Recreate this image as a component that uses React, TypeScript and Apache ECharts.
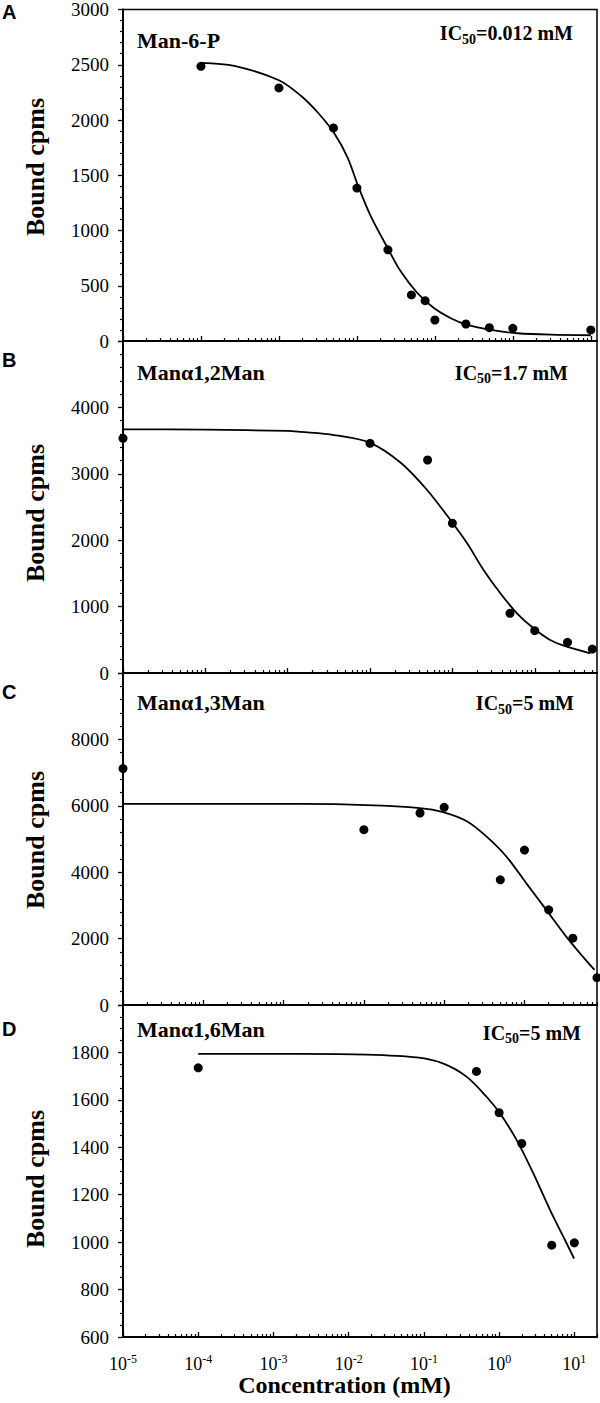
import React, { useEffect, useRef } from 'react';
import * as echarts from 'echarts';

// ---------- Panel A: Man-6-P ----------
const aPointX = [0.0001, 0.001, 0.005, 0.01, 0.025, 0.05, 0.075, 0.1, 0.25, 0.5, 1, 10];
const aPointY = [2486, 2290, 1928, 1384, 825, 417, 365, 190, 154, 121, 115, 100];
const aCurveX = [0.0001, 0.000267, 0.001, 0.00191, 0.00313, 0.00512, 0.0076, 0.0104, 0.0151, 0.0255, 0.0366, 0.06, 0.098, 0.16, 0.262, 0.522, 1.15, 3.07, 10];
const aCurveY = [2517, 2490, 2360, 2220, 2070, 1880, 1660, 1400, 1127, 825, 628, 432, 296, 206, 145, 100, 70, 57, 52];

// ---------- Panel B: Mana1,2Man ----------
const bPointX = [0.00001, 0.01, 0.05, 0.1, 0.5, 1, 2.5, 5];
const bPointY = [3535, 3459, 3208, 2255, 899, 637, 462, 361];
const bCurveX = [0.00001, 0.0001, 0.001, 0.00144, 0.00364, 0.00986, 0.0234, 0.0493, 0.0946, 0.151, 0.239, 0.382, 0.608, 0.966, 1.54, 2.45, 4.71];
const bCurveY = [3670, 3666, 3645, 3630, 3584, 3470, 3170, 2756, 2304, 1953, 1551, 1200, 899, 673, 497, 396, 297];

// ---------- Panel C: Mana1,3Man ----------
const cPointX = [0.00001, 0.01, 0.05, 0.1, 0.5, 1, 2, 4, 8];
const cPointY = [7120, 5280, 5783, 5953, 3771, 4667, 2866, 2012, 824];
const cCurveX = [0.00001, 0.0001, 0.0016, 0.0108, 0.0496, 0.0966, 0.189, 0.335, 0.594, 1.05, 1.87, 3.31, 5.33, 7.45];
const cCurveY = [6060, 6058, 6055, 6020, 5930, 5810, 5540, 5078, 4474, 3672, 2866, 2061, 1457, 1056];

// ---------- Panel D: Mana1,6Man ----------
const dPointX = [0.0001, 0.5, 1, 2, 5, 10];
const dPointY = [1735, 1720, 1546, 1416, 987, 997];
const dCurveX = [0.0001, 0.00226, 0.0174, 0.0805, 0.182, 0.372, 0.685, 1.03, 1.72, 2.86, 4.76, 7.16, 9.93];
const dCurveY = [1794, 1794, 1791, 1779, 1753, 1697, 1612, 1542, 1429, 1289, 1135, 1022, 931];

// ---------- Axes ----------
const panelLetters = ['A', 'B', 'C', 'D'];
const panelTitles = ['Man-6-P', 'Manα1,2Man', 'Manα1,3Man', 'Manα1,6Man'];
const ic50Values = ['=0.012 mM', '=1.7 mM', '=5 mM', '=5 mM'];
const xMaxes = [12, 5.7, 8, 20];
const yMins = [0, 0, 0, 600];
const yMaxes = [3000, 5000, 10000, 2000];
const yIntervals = [500, 1000, 2000, 200];
const yMinorSplits = [5, 5, 5, 4];
const decadeExponents = [-5, -4, -3, -2, -1, 0, 1];
const minorMultipliers = [2, 3, 4, 5, 6, 7, 8, 9];
const yName = 'Bound cpms';
const xName = 'Concentration (mM)';

const SERIF = "'Liberation Serif', 'Times New Roman', serif";
const SANS = "'Liberation Sans', Arial, sans-serif";

const GRID_LEFT = 123;
const GRID_RIGHT_EDGE = 597;
const PANEL_TOPS = [9, 341, 673, 1005];
const PANEL_H = 332;

// layout of texts (positions only)
const titleY = [40.8, 372.5, 702.5, 1029];
const icY = [33.3, 372.5, 703.3, 1032.5];
const icRight = [573, 568, 574, 581];
const letterY = [11.5, 360, 691.5, 1028.5];
const yNameY = [167, 513, 840, 1179];

function majorsUpTo(max: number) {
  return decadeExponents.map((e) => Number('1e' + e)).filter((v) => v <= max * 1.0001);
}
function minorsUpTo(max: number) {
  const out: number[] = [];
  decadeExponents.forEach((e) =>
    minorMultipliers.forEach((m) => {
      const v = Number(m + 'e' + e);
      if (v <= max * 1.0001) out.push(v);
    })
  );
  return out;
}
function zip(xs: number[], ys: number[]) {
  return xs.map((x, i) => [x, ys[i]]);
}

export default function App() {
  const ref = useRef<HTMLDivElement>(null);
  useEffect(() => {
    document.body.style.margin = '0';
    if (!ref.current) return;
    const chart = echarts.init(ref.current, undefined, { renderer: 'svg' });

    const pts = [
      [aPointX, aPointY],
      [bPointX, bPointY],
      [cPointX, cPointY],
      [dPointX, dPointY],
    ];
    const curves = [
      [aCurveX, aCurveY],
      [bCurveX, bCurveY],
      [cCurveX, cCurveY],
      [dCurveX, dCurveY],
    ];

    const grid: any[] = [];
    const xAxis: any[] = [];
    const yAxis: any[] = [];
    const series: any[] = [];

    for (let i = 0; i < 4; i++) {
      grid.push({
        left: GRID_LEFT,
        right: 600 - GRID_RIGHT_EDGE,
        top: PANEL_TOPS[i],
        height: PANEL_H,
        show: true,
        borderColor: '#000',
        borderWidth: 1.5,
        backgroundColor: 'transparent',
      });
      const majors = majorsUpTo(xMaxes[i]);
      const isBottom = i === 3;
      xAxis.push({
        type: 'log',
        logBase: 10,
        gridIndex: i,
        position: 'bottom',
        min: 0.00001,
        max: xMaxes[i],
        axisLine: { show: true, lineStyle: { color: '#000', width: 2 } },
        axisTick: { show: true, inside: true, length: 5, customValues: majors, lineStyle: { color: '#000', width: 1.3 } },
        minorTick: { show: false },
        splitLine: { show: false },
        axisLabel: {
          show: isBottom,
          customValues: majors,
          margin: 16,
          color: '#000',
          formatter: (v: number) => {
            if (!(v > 0)) return '';
            const k = Math.round(Math.log10(v));
            if (Math.abs(Math.pow(10, k) - v) / v > 1e-6) return '';
            return '{b|10}{s|' + k + '}';
          },
          rich: {
            b: { fontFamily: SERIF, fontSize: 18, color: '#000', lineHeight: 22 },
            s: { fontFamily: SERIF, fontSize: 12, color: '#000', lineHeight: 22, padding: [0, 0, 10, 0] },
          },
        },
      });
      xAxis.push({
        type: 'log',
        logBase: 10,
        gridIndex: i,
        position: 'bottom',
        min: 0.00001,
        max: xMaxes[i],
        axisLine: { show: false },
        axisTick: { show: true, inside: true, length: 3, customValues: minorsUpTo(xMaxes[i]), lineStyle: { color: '#000', width: 1.2 } },
        minorTick: { show: false },
        splitLine: { show: false },
        axisLabel: { show: false },
      });
      yAxis.push({
        type: 'value',
        gridIndex: i,
        min: yMins[i],
        max: yMaxes[i],
        interval: yIntervals[i],
        axisLine: { show: true, lineStyle: { color: '#000', width: 2 } },
        axisTick: { show: true, inside: false, length: 5, lineStyle: { color: '#000', width: 1.3 } },
        minorTick: { show: true, splitNumber: yMinorSplits[i], length: 3, lineStyle: { color: '#000', width: 1.2 } },
        splitLine: { show: false },
        axisLabel: {
          color: '#000',
          fontFamily: SERIF,
          fontSize: 19,
          margin: 14,
          showMaxLabel: i === 0,
          formatter: (v: number) => String(v),
        },
      });
      series.push({
        type: 'line',
        xAxisIndex: 2 * i,
        yAxisIndex: i,
        data: zip(curves[i][0], curves[i][1]),
        showSymbol: false,
        symbol: 'none',
        smooth: 0.3,
        lineStyle: { color: '#000', width: 1.8 },
        z: 3,
      });
      series.push({
        type: 'scatter',
        xAxisIndex: 2 * i,
        yAxisIndex: i,
        data: zip(pts[i][0], pts[i][1]),
        symbol: 'circle',
        symbolSize: 9,
        itemStyle: { color: '#000', opacity: 1 },
        clip: false,
        z: 4,
      });
    }

    const graphic: any[] = [];
    for (let i = 0; i < 4; i++) {
      graphic.push({
        type: 'text',
        x: 2,
        y: letterY[i],
        style: {
          text: panelLetters[i],
          fontFamily: SANS,
          fontWeight: 'bold',
          fontSize: 20,
          fill: '#000',
          align: 'left',
          verticalAlign: 'middle',
          textAlign: 'left',
          textVerticalAlign: 'middle',
        },
      });
      graphic.push({
        type: 'text',
        x: 137,
        y: titleY[i],
        style: {
          text: panelTitles[i],
          fontFamily: SERIF,
          fontWeight: 'bold',
          fontSize: 22,
          fill: '#000',
          align: 'left',
          verticalAlign: 'middle',
          textAlign: 'left',
          textVerticalAlign: 'middle',
        },
      });
      graphic.push({
        type: 'text',
        x: icRight[i],
        y: icY[i],
        style: {
          text: '{m|IC}{s|50}{m|' + ic50Values[i] + '}',
          align: 'right',
          verticalAlign: 'middle',
          textAlign: 'right',
          textVerticalAlign: 'middle',
          rich: {
            m: { fontFamily: SERIF, fontWeight: 'bold', fontSize: 20, fill: '#000', color: '#000', lineHeight: 22 },
            s: { fontFamily: SERIF, fontWeight: 'bold', fontSize: 14, fill: '#000', color: '#000', lineHeight: 22, padding: [12, 0, 0, 0] },
          },
        },
      });
      graphic.push({
        type: 'text',
        x: 35,
        y: yNameY[i],
        rotation: Math.PI / 2,
        style: {
          text: yName,
          fontFamily: SERIF,
          fontWeight: 'bold',
          fontSize: 26,
          fill: '#000',
          align: 'center',
          verticalAlign: 'middle',
          textAlign: 'center',
          textVerticalAlign: 'middle',
        },
      });
    }
    graphic.push({
      type: 'text',
      x: 344.5,
      y: 1385,
      style: {
        text: xName,
        fontFamily: SERIF,
        fontWeight: 'bold',
        fontSize: 24,
        fill: '#000',
        align: 'center',
        verticalAlign: 'middle',
        textAlign: 'center',
        textVerticalAlign: 'middle',
      },
    });

    chart.setOption({
      animation: false,
      backgroundColor: '#fff',
      grid,
      xAxis,
      yAxis,
      series,
      graphic,
    });
    return () => chart.dispose();
  }, []);
  return <div ref={ref} style={{ width: 600, height: 1403 }} />;
}
